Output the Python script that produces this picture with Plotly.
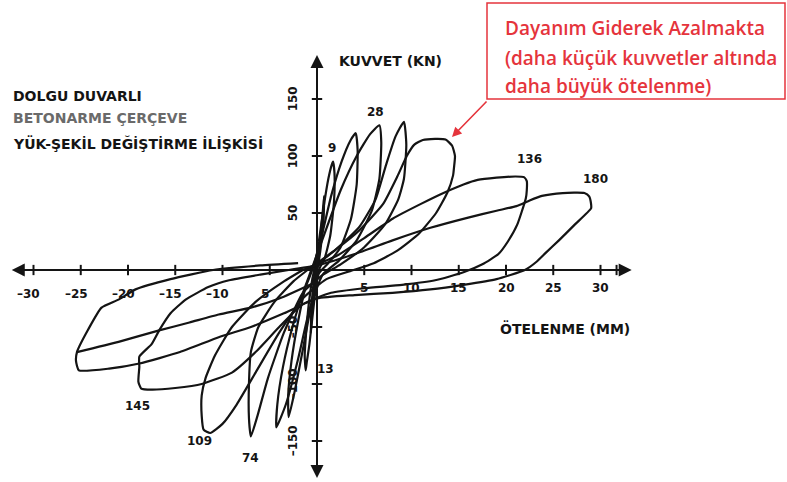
import plotly.graph_objects as go

# ---------------- data ----------------
# Hysteresis cycles: displacement (mm) / force (kN) traced point by point
cyc0_x = [-0.2, 0.3, 0.6, 0.75, 0.7, 0.4, 0.1, -0.2, -0.5, -0.65, -0.6, -0.35, -0.2]
cyc0_y = [0, 25, 50, 65, 45, 20, 3, -10, -35, -55, -35, -10, 0]

cyc1_x = [-0.3, 0.2, 0.7, 1.2, 1.55, 1.7, 1.85, 1.8, 1.4, 0.8, 0.3, 0.0, -0.4, -0.8, -1.1, -1.2, -1.3, -1.1, -0.8, -0.5, -0.3]
cyc1_y = [0, 25, 55, 80, 92, 95, 85, 60, 30, 10, 2, -8, -35, -65, -82, -88, -75, -50, -25, -8, 0]

cyc2_x = [-0.5, 0.5, 1.5, 2.6, 3.5, 4.1, 4.3, 4.2, 3.6, 2.5, 1.2, 0.2, -0.6, -1.5, -2.4, -3.0, -3.05, -2.7, -2.0, -1.2, -0.5]
cyc2_y = [0, 30, 65, 95, 113, 120, 105, 75, 45, 20, 6, -3, -30, -70, -108, -129, -110, -80, -45, -15, 0]

cyc3_x = [-0.6, 0.8, 2.5, 4.2, 5.6, 6.6, 6.8, 6.6, 5.8, 4.2, 2.3, 0.6, -0.8, -2.0, -3.3, -4.3, -4.2, -3.6, -2.6, -1.4, -0.6]
cyc3_y = [0, 32, 70, 100, 119, 127, 112, 80, 52, 26, 8, -4, -35, -78, -118, -138, -118, -85, -50, -18, 0]

cyc4_x = [-0.8, 2.0, 4.5, 6.2, 7.3, 8.3, 9.2, 9.45, 9.2, 8.6, 7.2, 5.0, 2.5, 0.5, -1.5, -3.5, -5.2, -6.3, -7.0, -7.2, -7.2, -7.0, -6.2, -4.5, -2.5, -1.0]
cyc4_y = [0, 18, 38, 62, 92, 117, 130, 110, 80, 62, 40, 20, 5, -5, -20, -55, -95, -128, -146, -130, -100, -72, -50, -28, -10, 0]

cyc5_x = [-1.0, 2.0, 4.5, 7.0, 8.5, 9.5, 10.3, 11.2, 12.5, 13.6, 14.3, 14.6, 14.5, 14.4, 13.8, 12.6, 10.8, 8.5, 6.0, 3.5, 1.0,
          -1.5, -4.0, -6.5, -8.5, -10.0, -11.3, -12.0, -12.2, -12.2, -11.8, -10.8, -9.0, -6.5, -3.5, -1.5]
cyc5_y = [0, 18, 35, 58, 82, 100, 110, 114, 115, 114.5, 109, 100, 90, 83, 68, 50, 32, 17, 6, -1, -8,
          -25, -55, -90, -118, -135, -143, -140, -128, -110, -95, -75, -50, -28, -10, 0]

cyc6_x = [-1.5, 2.0, 5.0, 8.0, 11.0, 13.5, 15.5, 17.0, 19.0, 21.0, 21.9, 22.2, 22.2, 22.1, 21.2, 20.2, 19.2, 17.5, 15.5, 12.5,
          9.0, 5.0, 1.5, -1.5, -4.0, -6.5, -9.0, -12.2, -15.0, -17.5, -18.6, -18.9, -18.8, -18.8, -17.5, -16.7, -15.5,
          -13.9, -11.5, -9.3, -6.0, -3.0]
cyc6_y = [0, 12, 28, 45, 58, 68, 75, 79, 81, 82, 81.5, 78, 70, 63, 40, 25, 14, 5, -2, -9,
          -13, -16, -20, -30, -50, -72, -90, -100, -103.5, -105, -104, -98, -85, -76, -65, -53, -38,
          -26, -15, -9, -4, 0]

cyc7_x = [-3.0, 0.0, 4.0, 8.0, 12.0, 16.0, 19.0, 21.1, 22.5, 23.8, 26.0, 28.3, 28.8, 29.0, 29.0, 27.3, 25.6, 24.2, 23.2, 22.0,
          19.0, 15.5, 12.0, 8.0, 4.0, 0.0, -3.5, -7.0, -10.4, -14.5, -18.8, -22.0, -25.2, -25.5, -25.4, -24.2, -22.8,
          -21.0, -19.2, -15.5, -11.0, -6.0, -2.0]
cyc7_y = [0, 4, 14, 26, 37, 46, 52, 56, 61, 65, 67.5, 67.5, 64.5, 58, 54, 40, 26, 15, 7, 0,
          -8, -13, -17, -20, -22, -25, -38, -50, -59, -72, -82, -86.5, -88, -80, -72, -52, -33,
          -26, -17, -8, 0, 4, 6]

# repeated excursion at the largest negative amplitude
cyc8_x = [0.0, -4.0, -7.0, -10.4, -13.5, -16.7, -21.0, -25.4]
cyc8_y = [-10, -25, -33, -39, -46, -53, -63, -72]

cycles = [(cyc0_x, cyc0_y), (cyc1_x, cyc1_y), (cyc2_x, cyc2_y), (cyc3_x, cyc3_y), (cyc4_x, cyc4_y),
          (cyc5_x, cyc5_y), (cyc6_x, cyc6_y), (cyc7_x, cyc7_y), (cyc8_x, cyc8_y)]

# cycle numbers written next to the loops
cycle_labels = ["9", "28", "136", "180", "13", "145", "109", "74"]
cycle_label_x = [1.6, 6.2, 22.5, 29.5, 0.95, -19.0, -12.4, -7.0]
cycle_label_y = [107, 139, 97, 80, -87, -119, -150, -165]

x_ticks = [-30, -25, -20, -15, -10, -5, 5, 10, 15, 20, 25, 30]
x_tick_text = ["–30", "–25", "–20", "–15", "–10", "5", "5", "10", "15", "20", "25", "30"]
y_ticks = [150, 100, 50, -50, -100, -150]
y_tick_text = ["150", "100", "50", "–50", "–100", "–150"]

# ---------------- layout helpers ----------------
W, H = 787, 482
X0_PX, SX = 317, 9.45   # pixel column of zero displacement, pixels per mm
Y0_PX, SY = 270, 1.14   # pixel row of zero force, pixels per kN
x_range = [-X0_PX / SX, (W - X0_PX) / SX]
y_range = [-(H - Y0_PX) / SY, Y0_PX / SY]

X_END_L, X_END_R = -32.3, 33.3
Y_END_T, Y_END_B = 188.6, -182.5

INK = "#141414"
RED = "#e5343c"
BOLD = "DejaVu Sans, Liberation Sans, sans-serif"


def px(xp):
    return xp / W


def py(yp):
    return 1 - yp / H


fig = go.Figure()

# hysteresis loops
for cx, cy in cycles:
    fig.add_trace(go.Scatter(x=cx, y=cy, mode="lines",
                             line=dict(color=INK, width=2.2, shape="spline", smoothing=0.5),
                             hoverinfo="skip", showlegend=False))

# axes lines
fig.add_trace(go.Scatter(x=[X_END_L + 1.0, X_END_R - 1.0], y=[0, 0], mode="lines",
                         line=dict(color=INK, width=2), hoverinfo="skip", showlegend=False))
fig.add_trace(go.Scatter(x=[0, 0], y=[Y_END_B + 8, Y_END_T - 8], mode="lines",
                         line=dict(color=INK, width=2), hoverinfo="skip", showlegend=False))

# tick marks
tx, ty = [], []
for t in x_ticks + [X_END_L + 1.2, X_END_R - 1.6]:
    tx += [t, t, None]
    ty += [-4.5, 4.5, None]
for t in y_ticks:
    tx += [-0.55, 0.55, None]
    ty += [t, t, None]
fig.add_trace(go.Scatter(x=tx, y=ty, mode="lines", line=dict(color=INK, width=2),
                         hoverinfo="skip", showlegend=False))

ann = []
# arrow heads at the axis ends
for (hx, hy, tx0, ty0) in [(X_END_R, 0, X_END_R - 2.5, 0), (X_END_L, 0, X_END_L + 2.5, 0),
                           (0, Y_END_T, 0, Y_END_T - 20), (0, Y_END_B, 0, Y_END_B + 20)]:
    ann.append(dict(x=hx, y=hy, ax=tx0, ay=ty0, xref="x", yref="y", axref="x", ayref="y",
                    showarrow=True, arrowhead=2, arrowsize=1.3, arrowwidth=2, arrowcolor=INK, text=""))

# tick labels
for t, s in zip(x_ticks, x_tick_text):
    ann.append(dict(x=t - (0.5 if t < 0 else 0), y=(-21 if t < 0 else -16), xref="x", yref="y",
                    text="<b>%s</b>" % s, showarrow=False, font=dict(family=BOLD, size=12, color=INK),
                    xanchor="center", yanchor="middle"))
for t, s in zip(y_ticks, y_tick_text):
    ann.append(dict(x=-2.5, y=t, xref="x", yref="y", text="<b>%s</b>" % s, showarrow=False, textangle=-90,
                    font=dict(family=BOLD, size=12, color=INK), xanchor="center", yanchor="middle"))

# cycle numbers
for s, lx, ly in zip(cycle_labels, cycle_label_x, cycle_label_y):
    ann.append(dict(x=lx, y=ly, xref="x", yref="y", text="<b>%s</b>" % s, showarrow=False,
                    font=dict(family=BOLD, size=12, color=INK), xanchor="center", yanchor="middle"))

# axis titles
ann.append(dict(x=px(337), y=py(61), xref="paper", yref="paper", text="<b>KUVVET (KN)</b>",
                showarrow=False, xanchor="left", yanchor="middle",
                font=dict(family=BOLD, size=14, color=INK)))
ann.append(dict(x=px(498), y=py(328), xref="paper", yref="paper", text="<b>ÖTELENME (MM)</b>",
                showarrow=False, xanchor="left", yanchor="middle",
                font=dict(family=BOLD, size=14, color=INK)))

# title block
for txt, yy, col in [("DOLGU DUVARLI", 96, INK), ("BETONARME ÇERÇEVE", 118, "#6a6a6a"),
                     ("YÜK-ŞEKİL DEĞİŞTİRME İLİŞKİSİ", 143, INK)]:
    ann.append(dict(x=px(11), y=py(yy), xref="paper", yref="paper", text="<b>%s</b>" % txt,
                    showarrow=False, xanchor="left", yanchor="middle",
                    font=dict(family=BOLD, size=14, color=col)))

# callout
for txt, yy in [("Dayanım Giderek Azalmakta", 28), ("(daha küçük kuvvetler altında", 58),
                ("daha büyük ötelenme)", 86)]:
    ann.append(dict(x=px(503), y=py(yy), xref="paper", yref="paper", text=txt,
                    showarrow=False, xanchor="left", yanchor="middle",
                    font=dict(family="Open Sans, sans-serif", size=19, color=RED, weight=600)))
ann.append(dict(x=px(452), y=py(137), xref="paper", yref="paper", ax=36, ay=-37,
                showarrow=True, arrowhead=2, arrowsize=1.2, arrowwidth=1.6, arrowcolor=RED, text=""))

fig.update_layout(
    width=W, height=H, margin=dict(l=0, r=0, t=0, b=0),
    paper_bgcolor="white", plot_bgcolor="white",
    xaxis=dict(range=x_range, visible=False, fixedrange=True),
    yaxis=dict(range=y_range, visible=False, fixedrange=True),
    annotations=ann,
    shapes=[dict(type="rect", xref="paper", yref="paper", x0=px(487), x1=px(785), y0=py(99), y1=py(3),
                 line=dict(color=RED, width=1.5), fillcolor="rgba(0,0,0,0)")],
)

fig.write_html("out.html")
